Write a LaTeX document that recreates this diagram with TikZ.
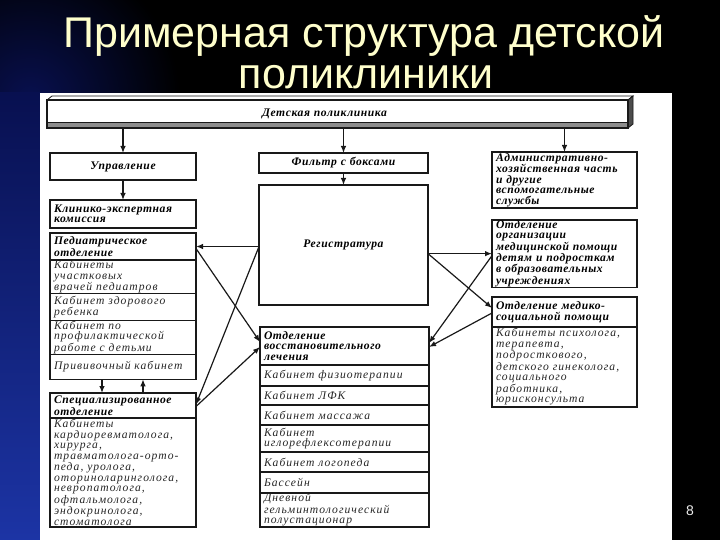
\documentclass[tikz,border=0pt]{standalone}
\usepackage{fontspec}
\setmainfont{Liberation Serif}
\newfontfamily\titlefont{Liberation Sans}
\newfontfamily\bxfont[LetterSpace=9]{Liberation Serif}
\newfontfamily\hdfont[LetterSpace=5]{Liberation Serif}
\usetikzlibrary{arrows.meta}
\definecolor{titlecol}{RGB}{255,255,204}
\definecolor{glowtop}{RGB}{8,16,80}
\definecolor{glowbot}{RGB}{28,52,165}
\begin{document}
\begin{tikzpicture}[
  x=1pt,y=-1pt,
  bx/.style={draw=black!90, line width=1.1pt, fill=white, anchor=north west,
    inner xsep=4pt, inner ysep=0.3pt, outer sep=0pt, align=left,
    font=\bxfont\itshape\fontsize{11.6}{10.5}\selectfont, text=black!85},
  hd/.style={bx, font=\hdfont\bfseries\itshape\fontsize{11.6}{10.5}\selectfont, text=black},
  L/.style={minimum width=146pt, text width=138pt},
  M/.style={minimum width=169pt, text width=161pt},
  R/.style={minimum width=145pt, text width=137pt},
  ctr/.style={align=center},
  arr/.style={line width=1.2pt, draw=black!90, -{Latex[length=7pt,width=5.5pt]}},
  ttl/.style={font=\titlefont\fontsize{43}{43}\selectfont, text=titlecol, anchor=base}
]
\useasboundingbox (0,0) rectangle (720,540);
% background
\fill[black] (0,0) rectangle (720,540);
\shade[inner color=glowtop, outer color=black] (30,100) circle (150pt);
\shade[top color=glowtop, bottom color=glowbot] (0,93) rectangle (40,540);
\fill[white] (40,93) rectangle (672,540);

% title
\node[ttl] (t1) at (364,48) {Примерная структура детской};
\node[ttl] (t2) at (366,89) {поликлиники};

% banner
\node[hd, ctr, minimum width=581pt, text width=573pt, minimum height=28pt] (banner) at (47,100) {\hspace*{-26pt}Детская поликлиника};
\filldraw[fill=white, draw=black!90, line width=0.8pt] (banner.north west) -- ++(5,-4) -- ++(581,0) -- (banner.north east) -- cycle;
\filldraw[fill=black!70, draw=black!90, line width=0.8pt] (banner.north east) -- ++(5,-4) -- ++(0,28) -- (banner.south east) -- cycle;
\fill[black!45] (banner.south west) rectangle ([yshift=6pt]banner.south east);
\draw[black!90, line width=1.1pt] (banner.south west) rectangle (banner.north east);
\draw[black!90, line width=0.8pt] ([yshift=6pt]banner.south west) -- ([yshift=6pt]banner.south east);

% left column
\node[hd, L, ctr, minimum height=27pt] (upr) at (50,153) {Управление};
\node[hd, L, minimum height=28pt] (kek) at (50,200) {Клинико-экспертная\\комиссия};
\node[hd, L, minimum height=27pt] (pedH) at (50,233) {Педиатрическое\\отделение};
\node[bx, L, minimum height=33pt] (ped1) at (pedH.south west) {Кабинеты\\участковых\\врачей~педиатров};
\node[bx, L, minimum height=27pt] (ped2) at (ped1.south west) {Кабинет~здорового\\ребенка};
\node[bx, L, minimum height=33pt] (ped3) at (ped2.south west) {Кабинет~по\\профилактической\\работе~с~детьми};
\node[bx, L, minimum height=25pt] (ped4) at (ped3.south west) {Прививочный~кабинет};
\node[hd, L, minimum height=25pt] (spH) at (50,393) {Специализированное\\отделение};
\node[bx, L, minimum height=109pt, font=\bxfont\itshape\fontsize{11.6}{10.5}\selectfont] (sp1) at (spH.south west) {Кабинеты\\кардиоревматолога,\\хирурга,\\травматолога-орто-\\педа,~уролога,\\оториноларинголога,\\невропатолога,\\офтальмолога,\\эндокринолога,\\стоматолога};

% middle column
\node[hd, M, ctr, minimum height=20pt] (filt) at (259,153) {Фильтр~с~боксами};
\node[hd, M, ctr, minimum height=120pt] (reg) at (259,185) {Регистратура};
\node[hd, M, minimum height=38pt] (vosH) at (260,327) {Отделение\\восстановительного\\лечения};
\node[bx, M, minimum height=21pt] (vos1) at (vosH.south west) {Кабинет~физиотерапии};
\node[bx, M, minimum height=19pt] (vos2) at (vos1.south west) {Кабинет~ЛФК};
\node[bx, M, minimum height=20pt] (vos3) at (vos2.south west) {Кабинет~массажа};
\node[bx, M, minimum height=27pt] (vos4) at (vos3.south west) {Кабинет\\иглорефлексотерапии};
\node[bx, M, minimum height=20pt] (vos5) at (vos4.south west) {Кабинет~логопеда};
\node[bx, M, minimum height=21pt] (vos6) at (vos5.south west) {Бассейн};
\node[bx, M, minimum height=34pt] (vos7) at (vos6.south west) {Дневной\\гельминтологический\\полустационар};

% right column
\node[hd, R, minimum height=56pt] (adm) at (492,152) {Административно-\\хозяйственная~часть\\и~другие\\вспомогательные\\службы};
\node[hd, R, minimum height=67pt] (org) at (492,220) {Отделение\\организации\\медицинской~помощи\\детям~и~подросткам\\в~образовательных\\учреждениях};
\node[hd, R, minimum height=30pt] (msH) at (492,297) {Отделение~медико-\\социальной~помощи};
\node[bx, R, minimum height=80pt] (ms1) at (msH.south west) {Кабинеты~психолога,\\терапевта,\\подросткового,\\детского~гинеколога,\\социального\\работника,\\юрисконсульта};

% page number
\node[font=\titlefont\fontsize{14}{14}\selectfont, text=white!85!gray] (pnum) at (690,511) {8};

% connectors
\draw[arr] (upr.north |- banner.south) -- (upr.north);
\draw[arr] (filt.north |- banner.south) -- (filt.north);
\draw[arr] (adm.north |- banner.south) -- (adm.north);
\draw[arr] (upr.south) -- (kek.north);
\draw[arr] (filt.south) -- (reg.north);
\draw[arr] ([xshift=-21pt]ped4.south) -- ([xshift=-21pt]spH.north);
\draw[arr] ([xshift=20pt]spH.north) -- ([xshift=20pt]ped4.south);
\coordinate (rl) at (reg.west |- pedH.east);
\coordinate (rr) at (reg.east |- org.west);
\draw[arr] (rl) -- (pedH.east);
\draw[arr] ([yshift=-2pt]pedH.east) -- ([yshift=4pt]vosH.west);
\draw[arr] (rl) -- ([yshift=1pt]spH.east);
\draw[arr] ([yshift=-1pt]spH.east) -- ([yshift=-1pt]vosH.west);
\draw[arr] (rr) -- (org.west);
\draw[arr] (rr) -- ([yshift=4pt]msH.west);
\draw[arr] ([yshift=-2pt]org.west) -- ([yshift=3pt]vosH.east);
\draw[arr] ([yshift=-1pt]msH.west) -- ([yshift=-1pt]vosH.east);
\end{tikzpicture}
\end{document}
